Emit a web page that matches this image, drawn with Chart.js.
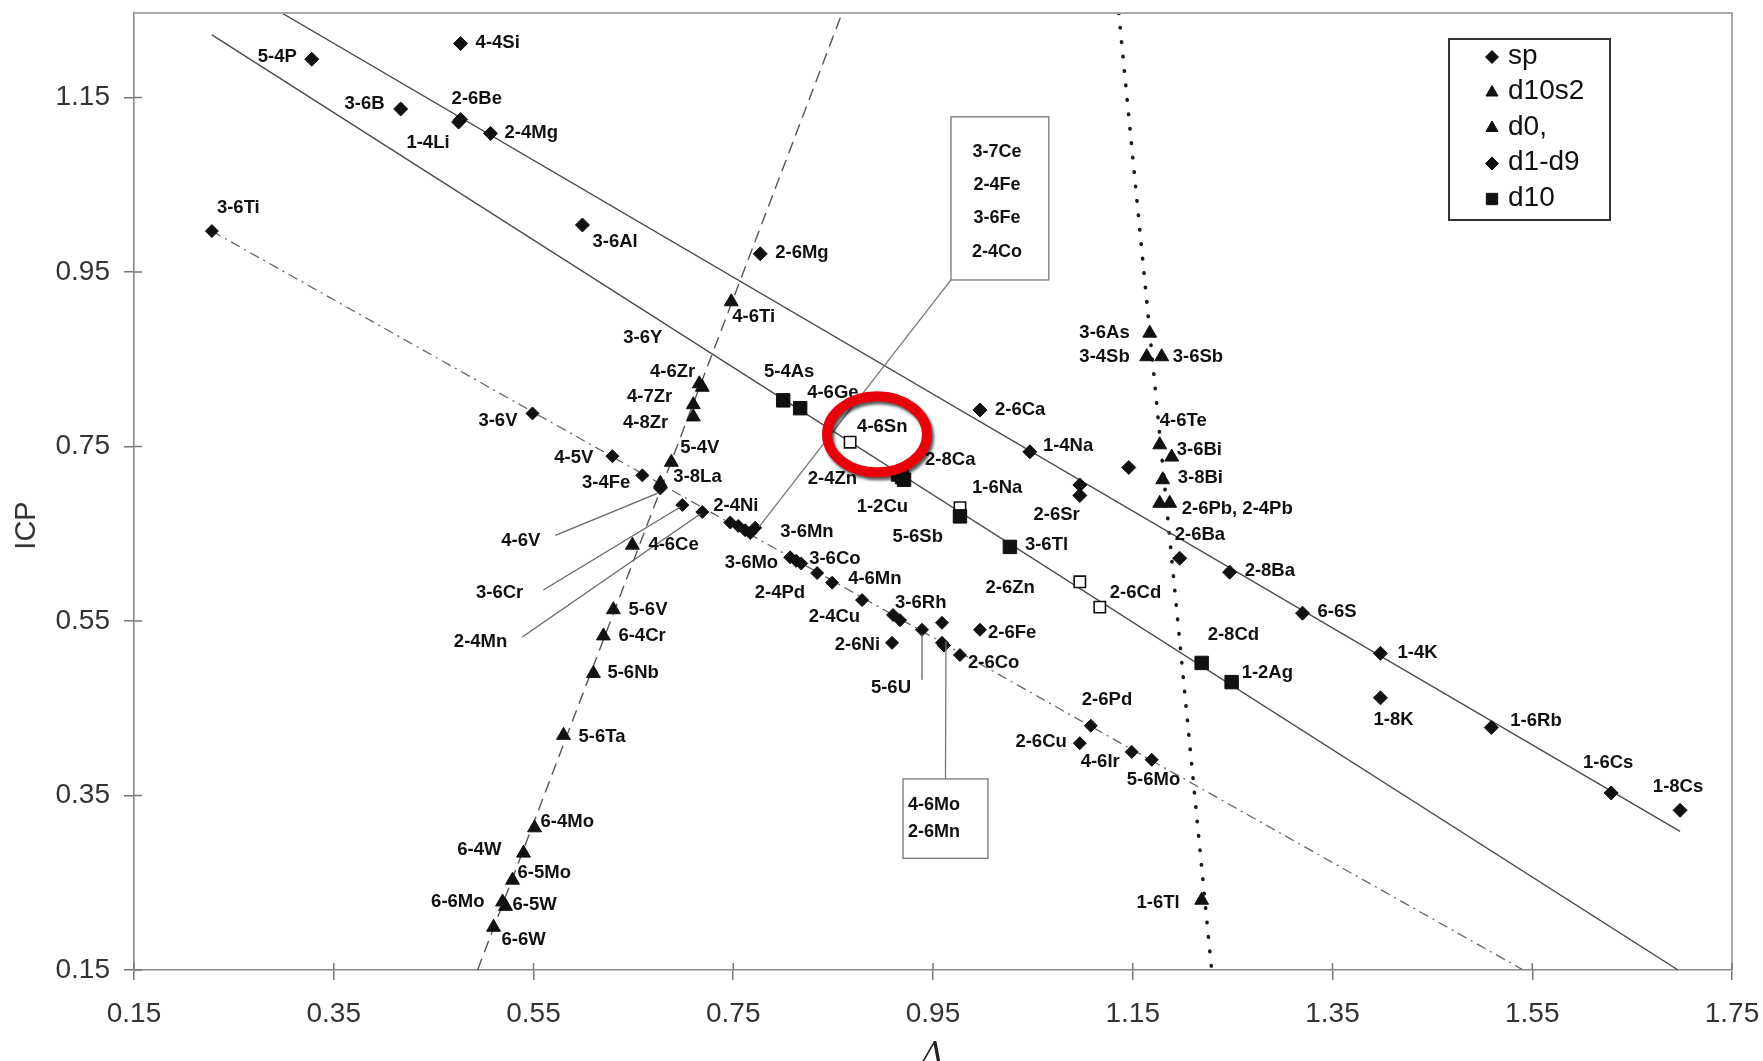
<!DOCTYPE html>
<html>
<head>
<meta charset="utf-8">
<script src="https://cdn.jsdelivr.net/npm/chart.js@4.4.1/dist/chart.umd.min.js"></script>
<style>
  html, body { margin: 0; padding: 0; background: #fff; }
  #wrap { width: 1763px; height: 1061px; position: relative; }
</style>
</head>
<body>
<div id="wrap"><canvas id="c"></canvas></div>
<script>
// Axis ticks
const xTicks = [0.15, 0.35, 0.55, 0.75, 0.95, 1.15, 1.35, 1.55, 1.75];
const xTickLabels = ['0.15', '0.35', '0.55', '0.75', '0.95', '1.15', '1.35', '1.55', '1.75'];
const yTicks = [0.15, 0.35, 0.55, 0.75, 0.95, 1.15];
const yTickLabels = ['0.15', '0.35', '0.55', '0.75', '0.95', '1.15'];

// sp cations
const spNames = ['5-4P', '4-4Si', '3-6B', '2-6Be', '1-4Li', '2-4Mg', '3-6Al', '2-6Mg', '2-6Ca', '1-4Na',
  '2-6Sr', '', '', '2-6Ba', '2-8Ba', '6-6S', '1-4K', '1-8K', '1-6Rb', '1-6Cs', '1-8Cs'];
const spX = [0.328, 0.477, 0.417, 0.477, 0.475, 0.507, 0.599, 0.777, 0.997, 1.047,
  1.097, 1.097, 1.146, 1.197, 1.247, 1.320, 1.398, 1.398, 1.509, 1.629, 1.698];
const spY = [1.194, 1.212, 1.137, 1.125, 1.122, 1.109, 1.004, 0.971, 0.792, 0.744,
  0.706, 0.694, 0.726, 0.622, 0.606, 0.559, 0.513, 0.462, 0.428, 0.353, 0.333];

// d10s2 cations
const d10s2Names = ['3-6As', '3-4Sb', '3-6Sb', '4-6Te', '3-6Bi', '3-8Bi', '2-6Pb', '2-4Pb', '1-6Tl'];
const d10s2X = [1.167, 1.164, 1.179, 1.177, 1.189, 1.180, 1.177, 1.187, 1.219];
const d10s2Y = [0.880, 0.853, 0.853, 0.752, 0.738, 0.712, 0.685, 0.685, 0.230];

// d0 cations
const d0Names = ['4-6Ti', '3-6Y', '4-6Zr', '4-7Zr', '4-8Zr', '5-4V', '3-8La', '4-6Ce', '5-6V', '6-4Cr',
  '5-6Nb', '5-6Ta', '6-4Mo', '6-4W', '6-5Mo', '6-6Mo', '6-5W', '6-6W'];
const d0X = [0.748, 0.716, 0.719, 0.710, 0.710, 0.688, 0.677, 0.649, 0.630, 0.620,
  0.610, 0.580, 0.551, 0.540, 0.529, 0.519, 0.522, 0.510];
const d0Y = [0.916, 0.822, 0.818, 0.798, 0.784, 0.732, 0.708, 0.637, 0.563, 0.533,
  0.490, 0.419, 0.313, 0.284, 0.253, 0.228, 0.223, 0.199];

// d1-d9 cations
const dnNames = ['3-6Ti', '3-6V', '4-5V', '3-4Fe', '4-6V', '3-6Cr', '2-4Mn', '2-4Ni', '3-7Ce', '2-4Fe',
  '3-6Fe', '2-4Co', '3-6Mn', '3-6Mo', '3-6Co', '2-4Pd', '4-6Mn', '2-4Cu', '3-6Rh', '',
  '2-6Ni', '5-6U', '', '4-6Mo', '2-6Mn', '2-6Fe', '2-6Co', '2-6Pd', '2-6Cu', '4-6Ir', '5-6Mo'];
const dnX = [0.228, 0.549, 0.629, 0.659, 0.677, 0.699, 0.719, 0.747, 0.755, 0.762,
  0.767, 0.772, 0.807, 0.813, 0.818, 0.834, 0.849, 0.879, 0.910, 0.917,
  0.909, 0.939, 0.959, 0.959, 0.961, 0.997, 0.977, 1.108, 1.097, 1.149, 1.169];
const dnY = [0.997, 0.788, 0.739, 0.717, 0.702, 0.683, 0.675, 0.663, 0.659, 0.654,
  0.651, 0.657, 0.623, 0.619, 0.616, 0.605, 0.594, 0.574, 0.557, 0.551,
  0.525, 0.540, 0.548, 0.525, 0.522, 0.540, 0.511, 0.430, 0.410, 0.400, 0.391];

// d10 cations
const d10Names = ['5-4As', '4-6Ge', '4-6Sn', '2-4Zn', '1-2Cu', '2-8Ca', '1-6Na', '5-6Sb', '3-6Tl',
  '2-6Zn', '2-6Cd', '2-8Cd', '1-2Ag'];
const d10X = [0.800, 0.817, 0.867, 0.915, 0.921, 0.919, 0.977, 0.977, 1.027, 1.097, 1.117, 1.219, 1.249];
const d10Y = [0.803, 0.794, 0.755, 0.718, 0.712, 0.715, 0.680, 0.670, 0.635, 0.595, 0.566, 0.502, 0.480];

// Fitted trend lines (end points)
const spLineX = [0.298, 1.698];
const spLineY = [1.247, 0.309];
const d10LineX = [0.228, 1.696];
const d10LineY = [1.222, 0.150];
const dnLineX = [0.228, 1.541];
const dnLineY = [0.997, 0.150];
const d0LineX = [0.494, 0.859];
const d0LineY = [0.150, 1.247];
const d10s2LineX = [1.136, 1.229];
const d10s2LineY = [1.247, 0.150];

// ---- drawing setup ----
const d10OpenNames = ['4-6Sn', '1-6Na', '2-6Zn', '2-6Cd'];
const groupedBoxes = [
  { names: ['3-7Ce', '2-4Fe', '3-6Fe', '2-4Co'], target: '2-4Co', corner: 'bottomLeft',
    x0: 0.968, x1: 1.066, y0: 1.128, y1: 0.941 },
  { names: ['4-6Mo', '2-6Mn'], target: '4-6Mo', corner: 'topCenter',
    x0: 0.920, x1: 1.005, y0: 0.369, y1: 0.278 }
];
const hiddenLabels = ['3-7Ce', '2-4Fe', '3-6Fe', '2-4Co', '4-6Mo', '2-6Mn', '2-6Pb'];
const labelText = { '2-4Pb': '2-6Pb, 2-4Pb' };
// [align, dx, dy] relative to the marker, in pixels
const labelPlacement = {
  '5-4P': ['r', -15, -2], '4-4Si': ['l', 15, -1], '3-6B': ['r', -16, -5], '2-6Be': ['l', -9, -21],
  '1-4Li': ['r', -9, 21], '2-4Mg': ['l', 14, 0], '3-6Al': ['l', 10, 17], '2-6Mg': ['l', 15, -1],
  '2-6Ca': ['l', 15, 0], '1-4Na': ['l', 13, -6], '2-6Sr': ['r', 0, 30], '2-6Ba': ['l', -5, -23],
  '2-8Ba': ['l', 15, -1], '6-6S': ['l', 15, -1], '1-4K': ['l', 17, 0], '1-8K': ['l', -7, 22],
  '1-6Rb': ['l', 19, -7], '1-6Cs': ['c', -3, -30], '1-8Cs': ['c', -2, -23],
  '3-6Ti': ['l', 5, -23], '3-6V': ['r', -15, 7], '4-5V': ['r', -19, 2], '3-4Fe': ['r', -12, 8],
  '4-6V': ['r', -120, 52], '3-6Cr': ['r', -159, 88], '2-4Mn': ['r', -195, 130], '2-4Ni': ['l', -17, -17],
  '3-6Mn': ['l', -10, -25], '3-6Mo': ['r', -18, 2], '3-6Co': ['l', 8, -5], '2-4Pd': ['r', -12, 20],
  '4-6Mn': ['l', 16, -4], '2-4Cu': ['r', -2, 17], '3-6Rh': ['l', 2, -12], '2-6Ni': ['r', -12, 2],
  '5-6U': ['r', -11, 58], '2-6Fe': ['l', 8, 3], '2-6Co': ['l', 8, 8], '2-6Pd': ['l', -9, -26],
  '2-6Cu': ['r', -13, -1], '4-6Ir': ['r', -12, 10], '5-6Mo': ['l', -25, 20],
  '4-6Ti': ['l', 1, 15], '3-6Y': ['r', -37, -46], '4-6Zr': ['r', -7, -15], '4-7Zr': ['r', -21, -8],
  '4-8Zr': ['r', -25, 6], '5-4V': ['l', 9, -14], '3-8La': ['l', 13, -6], '4-6Ce': ['l', 16, 0],
  '5-6V': ['l', 15, 0], '6-4Cr': ['l', 15, 0], '5-6Nb': ['l', 14, 0], '5-6Ta': ['l', 15, 2],
  '6-4Mo': ['l', 6, -6], '6-4W': ['r', -22, -3], '6-5Mo': ['l', 5, -7], '6-6Mo': ['r', -18, 0],
  '6-5W': ['l', 7, -1], '6-6W': ['l', 8, 13],
  '3-6As': ['r', -20, 0], '3-4Sb': ['r', -17, 0], '3-6Sb': ['l', 11, 0], '4-6Te': ['l', 0, -24],
  '3-6Bi': ['l', 5, -7], '3-8Bi': ['l', 15, -2], '2-4Pb': ['l', 12, 6], '1-6Tl': ['r', -22, 3],
  '5-4As': ['c', 6, -28], '4-6Ge': ['l', 7, -15], '4-6Sn': ['l', 7, -15], '2-4Zn': ['r', -41, 4],
  '1-2Cu': ['r', 4, 27], '2-8Ca': ['l', 23, -17], '1-6Na': ['l', 12, -20], '5-6Sb': ['r', -17, 21],
  '3-6Tl': ['l', 15, -2], '2-6Zn': ['r', -45, 6], '2-6Cd': ['l', 10, -14], '2-8Cd': ['l', 6, -28],
  '1-2Ag': ['l', 10, -9]
};
// leader lines: [fromDx, fromDy, toDx, toDy] relative to the marker
const leaderLines = {
  '4-6V': [-105, 47, -3, 5],
  '3-6Cr': [-139, 85, -2, 2],
  '2-4Mn': [-180, 125, -2, 2],
  '5-6U': [0, 50, 0, 4]
};

const zip = (xs, ys) => xs.map((x, i) => ({ x: x, y: ys[i] }));
const INK = '#111';

function markerSet(label, names, xs, ys, style, radius, extra) {
  return Object.assign({
    label: label, names: names, inLegend: true,
    data: zip(xs, ys), pointStyle: style, pointRadius: radius, pointHoverRadius: radius,
    pointBackgroundColor: INK, pointBorderColor: INK, pointBorderWidth: 1,
    showLine: false, order: 1
  }, extra || {});
}
function trendLine(xs, ys, dash, width, extra) {
  return Object.assign({
    label: '', data: zip(xs, ys), showLine: true, pointRadius: 0, pointHoverRadius: 0,
    borderColor: '#4a4a4a', borderWidth: width, borderDash: dash, fill: false, order: 2
  }, extra || {});
}

const datasets = [
  markerSet('sp', spNames, spX, spY, 'rectRot', 7),
  markerSet('d10s2', d10s2Names, d10s2X, d10s2Y, 'triangle', 8),
  markerSet('d0,', d0Names, d0X, d0Y, 'triangle', 8),
  markerSet('d1-d9', dnNames, dnX, dnY, 'rectRot', 6.5),
  markerSet('d10', d10Names, d10X, d10Y, 'rect', 9.5, {
    pointBackgroundColor: d10Names.map(n => d10OpenNames.includes(n) ? '#fff' : INK),
    pointRadius: d10Names.map(n => d10OpenNames.includes(n) ? 8 : 9.5),
    pointBorderWidth: d10Names.map(n => d10OpenNames.includes(n) ? 1.6 : 1)
  }),
  trendLine(spLineX, spLineY, [], 1.4),
  trendLine(d10LineX, d10LineY, [], 1.4),
  trendLine(dnLineX, dnLineY, [10, 5, 2, 5], 1.3, { borderColor: '#666' }),
  trendLine(d0LineX, d0LineY, [12, 7], 1.4, { borderColor: '#555' }),
  trendLine(d10s2LineX, d10s2LineY, [0.5, 14], 3.6, { borderColor: '#1a1a1a', borderCapStyle: 'round' })
];

const FONT = '"Liberation Sans", Arial, sans-serif';

const decorations = {
  id: 'decorations',
  beforeDraw(chart) {
    const c = chart.ctx;
    c.save();
    c.fillStyle = '#fff';
    c.fillRect(0, 0, chart.width, chart.height);
    c.restore();
  },
  afterDraw(chart) {
    const c = chart.ctx;
    const a = chart.chartArea;
    const xs = chart.scales.x, ys = chart.scales.y;
    c.save();

    // frame top/right
    c.strokeStyle = '#a8a8a8';
    c.lineWidth = 2;
    c.beginPath();
    c.moveTo(a.left, a.top); c.lineTo(a.right, a.top); c.lineTo(a.right, a.bottom);
    c.stroke();

    // inner tick marks
    c.strokeStyle = '#777';
    c.lineWidth = 1.5;
    c.beginPath();
    xTicks.forEach(v => { const px = xs.getPixelForValue(v); c.moveTo(px, a.bottom); c.lineTo(px, a.bottom - 7); });
    yTicks.forEach(v => { const py = ys.getPixelForValue(v); c.moveTo(a.left, py); c.lineTo(a.left + 8, py); });
    c.stroke();

    // axis titles
    c.fillStyle = '#333';
    c.font = '29px ' + FONT;
    c.textAlign = 'center';
    c.textBaseline = 'middle';
    c.save();
    c.translate(27, (a.top + a.bottom) / 2 + 34);
    c.rotate(-Math.PI / 2);
    c.fillText('ICP', 0, 0);
    c.restore();
    c.font = 'italic 30px "DejaVu Serif", "Liberation Serif", serif';
    c.textBaseline = 'top';
    c.fillStyle = '#222';
    c.fillText('Λ', (a.left + a.right) / 2, a.bottom + 70);

    // marker positions by name
    const pos = {};
    chart.data.datasets.forEach((ds, i) => {
      if (!ds.names) return;
      const meta = chart.getDatasetMeta(i);
      ds.names.forEach((n, j) => { if (n) pos[n] = meta.data[j]; });
    });

    // leader lines
    c.strokeStyle = '#666';
    c.lineWidth = 1.3;
    Object.keys(leaderLines).forEach(n => {
      const p = pos[n]; if (!p) return;
      const l = leaderLines[n];
      c.beginPath();
      c.moveTo(p.x + l[0], p.y + l[1]);
      c.lineTo(p.x + l[2], p.y + l[3]);
      c.stroke();
    });

    // grouped label boxes
    groupedBoxes.forEach(b => {
      const x0 = xs.getPixelForValue(b.x0), x1 = xs.getPixelForValue(b.x1);
      const y0 = ys.getPixelForValue(b.y0), y1 = ys.getPixelForValue(b.y1);
      const p = pos[b.target];
      c.strokeStyle = '#777';
      c.lineWidth = 1.3;
      c.strokeRect(x0, y0, x1 - x0, y1 - y0);
      c.beginPath();
      if (b.corner === 'bottomLeft') { c.moveTo(x0, y1); } else { c.moveTo((x0 + x1) / 2, y0); }
      c.lineTo(p.x + 4, p.y - 1);
      c.stroke();
      c.fillStyle = INK;
      c.font = 'bold 18px ' + FONT;
      c.textBaseline = 'middle';
      const n = b.names.length;
      const step = (y1 - y0) / (n + 0.9);
      b.names.forEach((name, k) => {
        if (n > 2) { c.textAlign = 'center'; c.fillText(name, (x0 + x1) / 2 - 3, y0 + step * (k + 1.05)); }
        else { c.textAlign = 'left'; c.fillText(name, x0 + 5, y0 + step * (k + 0.95)); }
      });
    });

    // point labels
    c.fillStyle = INK;
    c.font = 'bold 18.5px ' + FONT;
    c.textBaseline = 'middle';
    Object.keys(pos).forEach(n => {
      if (hiddenLabels.includes(n)) return;
      const pl = labelPlacement[n]; if (!pl) return;
      const p = pos[n];
      c.textAlign = pl[0] === 'l' ? 'left' : (pl[0] === 'r' ? 'right' : 'center');
      c.fillText(labelText[n] || n, p.x + pl[1], p.y + pl[2]);
    });

    // legend
    const lx = a.right - 283, ly = a.top + 26, lw = 161, lh = 181;
    c.fillStyle = '#fff';
    c.fillRect(lx, ly, lw, lh);
    c.strokeStyle = '#333';
    c.lineWidth = 2;
    c.strokeRect(lx, ly, lw, lh);
    const items = chart.data.datasets.filter(d => d.inLegend);
    c.font = '28px ' + FONT;
    c.textAlign = 'left';
    c.textBaseline = 'middle';
    items.forEach((d, k) => {
      const yy = ly + 17 + k * 35.5;
      c.fillStyle = INK; c.strokeStyle = INK; c.lineWidth = 1;
      const r = d.pointStyle === 'triangle' ? 7 : (d.pointStyle === 'rect' ? 8 : 6.5);
      Chart.helpers.drawPoint(c, { pointStyle: d.pointStyle, radius: r, borderWidth: 1, rotation: 0 }, lx + 43, yy + 1);
      c.fillStyle = '#111';
      c.fillText(d.label, lx + 59, yy);
    });

    // highlight ring
    const ex = xs.getPixelForValue(0.894), ey = ys.getPixelForValue(0.764);
    c.save();
    c.shadowColor = 'rgba(0,0,0,0.65)';
    c.shadowBlur = 3;
    c.shadowOffsetX = 2;
    c.shadowOffsetY = 3;
    c.strokeStyle = '#e8000b';
    c.lineWidth = 10;
    c.beginPath();
    c.ellipse(ex, ey, 50, 38, 0, 0, Math.PI * 2);
    c.stroke();
    c.restore();

    c.restore();
  }
};

const tickFont = { size: 28, family: FONT };

new Chart(document.getElementById('c'), {
  type: 'scatter',
  data: { datasets: datasets },
  options: {
    responsive: true,
    maintainAspectRatio: false,
    animation: false,
    events: [],
    layout: { padding: { top: 13, right: 31, left: 0, bottom: 0 } },
    plugins: { legend: { display: false }, tooltip: { enabled: false } },
    scales: {
      x: {
        type: 'linear', min: 0.15, max: 1.75,
        afterBuildTicks: s => { s.ticks = xTicks.map(v => ({ value: v })); },
        afterFit: s => { s.height = 91; s.paddingLeft = 0; s.paddingRight = 0; },
        grid: { drawOnChartArea: false, drawTicks: true, tickLength: 10, color: '#777', lineWidth: 1.5 },
        border: { display: true, color: '#8a8a8a', width: 1.6 },
        ticks: { font: tickFont, color: '#333', padding: 17, maxRotation: 0, autoSkip: false,
          callback: (v, i) => xTickLabels[i] }
      },
      y: {
        type: 'linear', min: 0.15, max: 1.247,
        afterBuildTicks: s => { s.ticks = yTicks.map(v => ({ value: v })); },
        afterFit: s => { s.width = 134; s.paddingTop = 0; s.paddingBottom = 0; },
        grid: { drawOnChartArea: false, drawTicks: true, tickLength: 10, color: '#777', lineWidth: 1.5 },
        border: { display: true, color: '#8a8a8a', width: 1.6 },
        ticks: { font: tickFont, color: '#333', padding: 14, autoSkip: false,
          callback: (v, i) => yTickLabels[i] }
      }
    }
  },
  plugins: [decorations]
});
</script>
</body>
</html>
